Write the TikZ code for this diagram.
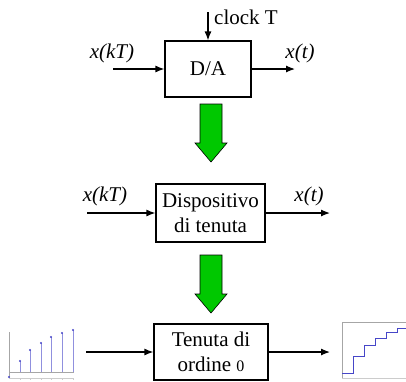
\documentclass[tikz,border=0pt]{standalone}
\usepackage{fontspec}
\setmainfont{Liberation Serif}
\usetikzlibrary{arrows}
\usetikzlibrary{arrows.meta}

\definecolor{verdefreccia}{RGB}{0,200,0}
\definecolor{blugrafico}{RGB}{70,70,200}

\tikzset{
  blocco/.style={draw, line width=1.2pt, align=center, inner sep=0pt,
    font=\fontsize{21}{25}\selectfont},
  freccia/.style={-{Latex[length=9pt,width=7pt]}, line width=1.2pt},
  etichetta/.style={font=\fontsize{21}{25}\selectfont, inner sep=0pt},
  assi/.style={gray!70, line width=0.6pt}
}

\begin{document}
\begin{tikzpicture}[x=1pt, y=-1pt]
  \useasboundingbox (0,0) rectangle (406,381);

  % convertitore D/A
  \node [blocco, minimum width=86pt, minimum height=56pt] (da) at (208,69) {D/A};
  \coordinate (clock) at (208,12);
  \coordinate (da in) at (113,69);
  \coordinate (da out) at (295,69);
  \draw [freccia] (clock) -- (da.north);
  \draw [freccia] (da in) -- (da.west);
  \draw [freccia] (da.east) -- (da out);
  \node [etichetta, anchor=west] (clockT) at (214,17) {clock T};
  \node [etichetta] (xkT a) at (112,53) {\textit{x(kT)}};
  \node [etichetta] (xt a) at (300,53) {\textit{x(t)}};

  % frecce verdi
  \foreach \y in {104,255}
    \filldraw [fill=verdefreccia, line width=0.6pt] (200,\y) -- (222,\y) -- (222,\y+39)
      -- (227,\y+39) -- (211,\y+58) -- (195,\y+39) -- (200,\y+39) -- cycle;

  % dispositivo di tenuta
  \node [blocco, minimum width=109pt, minimum height=58pt] (tenuta) at (210.5,213)
    {Dispositivo\\di tenuta};
  \coordinate (ten in) at (87,213);
  \coordinate (ten out) at (330,213);
  \draw [freccia] (ten in) -- (tenuta.west);
  \draw [freccia] (tenuta.east) -- (ten out);
  \node [etichetta] (xkT b) at (105,196) {\textit{x(kT)}};
  \node [etichetta] (xt b) at (309,196) {\textit{x(t)}};

  % tenuta di ordine 0
  \node [blocco, minimum width=114pt, minimum height=56pt] (zoh) at (211,352)
    {Tenuta di\\ordine {\fontsize{16}{16}\selectfont 0}};
  \coordinate (zoh in) at (86,352);
  \coordinate (zoh out) at (330,352);
  \draw [freccia] (zoh in) -- (zoh.west);
  \draw [freccia] (zoh.east) -- (zoh out);

  % campioni
  \draw [assi] (9,332) -- (9,379);
  \draw [assi] (9,372) -- (74,372);
  \draw [gray!40, line width=0.4pt] (9,378) -- (74,378);
  \foreach \xx in {20,30,41,51,62,73}
    \draw [gray!40, line width=0.4pt] (\xx,378) -- (\xx,380);
  \foreach \xx/\yy in {20/361,30/350,41/343,51/337,62/333,73/330} {
    \draw [blugrafico!60, line width=1pt] (\xx,372) -- (\xx,\yy);
    \fill [blugrafico] (\xx,\yy) circle (1.2pt);
  }
  \fill [blugrafico] (9,377) circle (1.2pt);

  % uscita a gradini
  \draw [assi] (342,322) -- (342,379);
  \draw [assi] (342,322) -- (406,322);
  \draw [gray!40, line width=0.4pt] (342,378) -- (406,378);
  \draw [blugrafico, line width=1pt] (342,373) -- (353,373) -- (353,356) -- (364,356)
    -- (364,345) -- (375,345) -- (375,338) -- (386,338) -- (386,332) -- (397,332)
    -- (397,328) -- (406,328);
\end{tikzpicture}
\end{document}
